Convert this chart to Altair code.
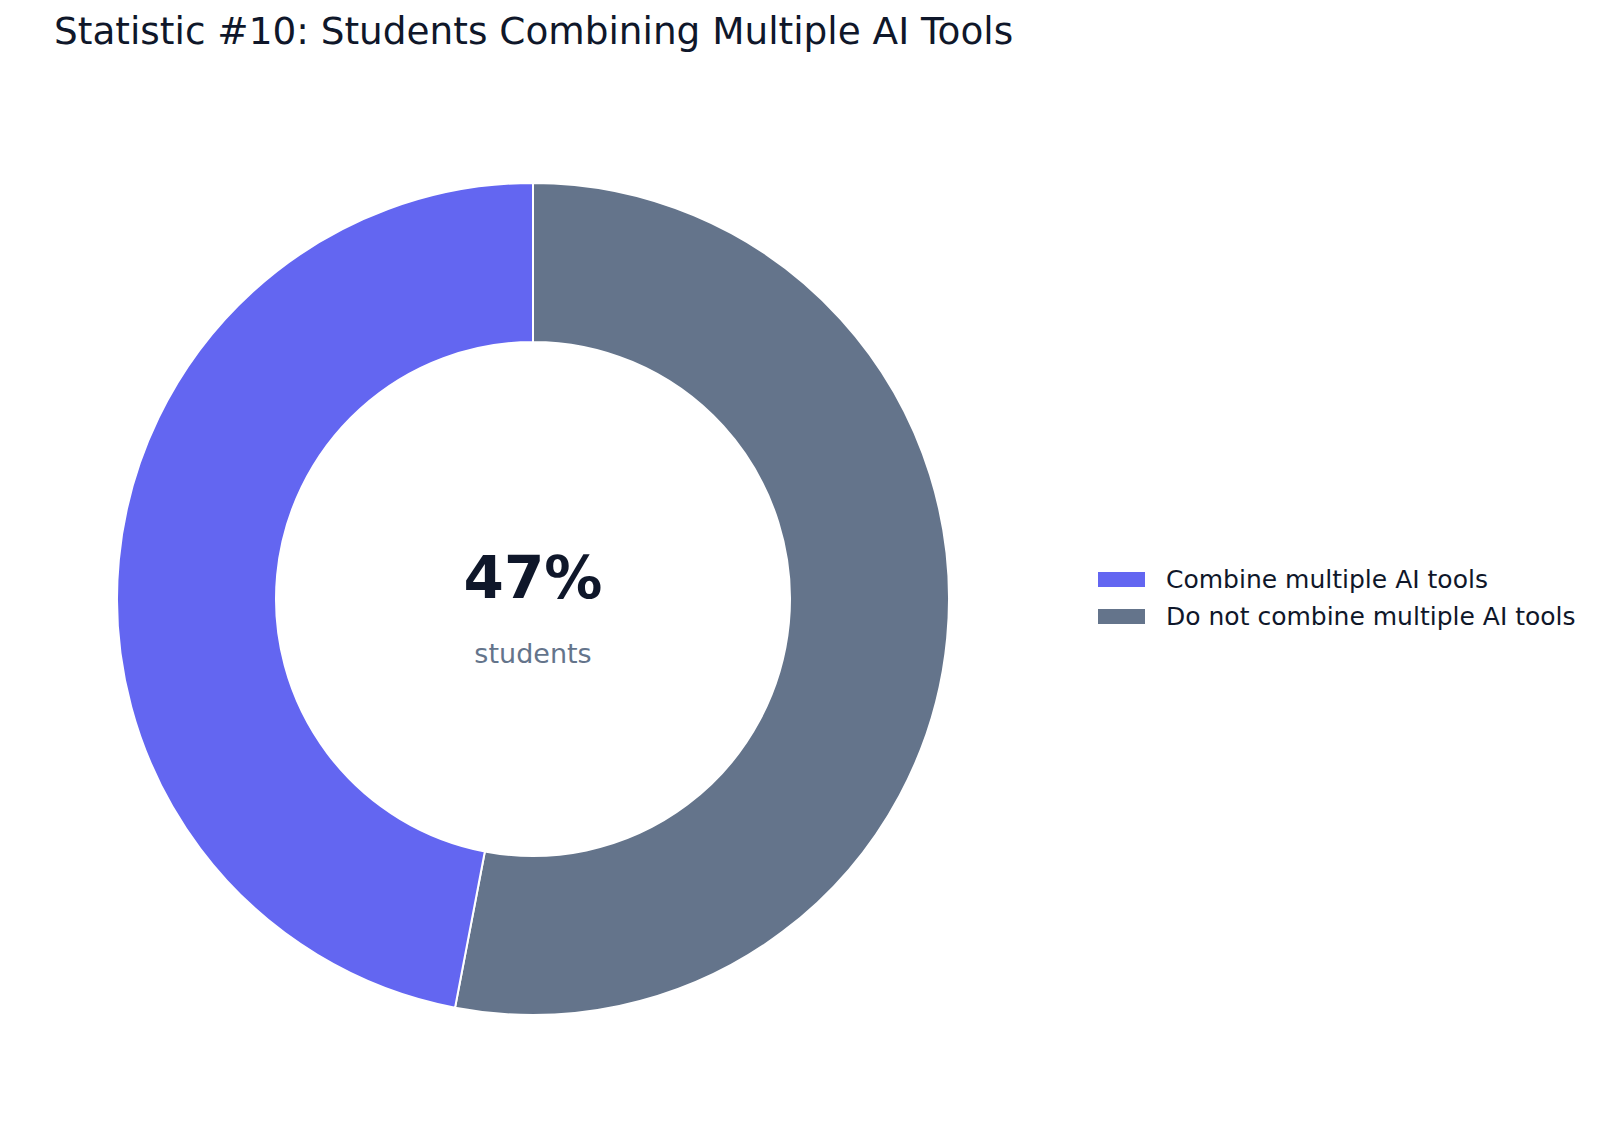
import altair as alt
import pandas as pd

categories = ["Do not combine multiple AI tools", "Combine multiple AI tools"]
values = [53, 47]
legend_order = ["Combine multiple AI tools", "Do not combine multiple AI tools"]
colors = ["#6366F1", "#64748B"]
order = [0, 1]
center_value = ["47%"]
center_label = ["students"]

df = pd.DataFrame({"category": categories, "value": values, "order": order})

CX, CY = 525, 521
FONT = "DejaVu Sans"

donut = alt.Chart(df).mark_arc(
    innerRadius=257, outerRadius=416, stroke="white", strokeWidth=2
).encode(
    theta=alt.Theta("value:Q", stack=True),
    order=alt.Order("order:Q"),
    color=alt.Color(
        "category:N",
        scale=alt.Scale(domain=legend_order, range=colors),
        legend=alt.Legend(
            title=None,
            orient="none",
            legendX=1090,
            legendY=478,
            symbolType="M-1,-0.32L1,-0.32L1,0.32L-1,0.32Z",
            symbolSize=2209,
            symbolStrokeWidth=0,
            symbolOpacity=1,
            labelFontSize=25,
            labelFont=FONT,
            labelColor="#0F172A",
            labelOffset=21,
            labelLimit=1000,
            rowPadding=0,
        ),
    ),
    x=alt.value(CX),
    y=alt.value(CY),
)

big = alt.Chart(pd.DataFrame({"t": center_value})).mark_text(
    font=FONT, fontSize=58, fontWeight="bold", color="#0F172A", baseline="alphabetic", align="center"
).encode(text="t:N", x=alt.value(CX), y=alt.value(CY - 1))

small = alt.Chart(pd.DataFrame({"t": center_label})).mark_text(
    font=FONT, fontSize=27, color="#64748B", baseline="alphabetic", align="center"
).encode(text="t:N", x=alt.value(CX), y=alt.value(CY + 64))

chart = alt.layer(donut, big, small).properties(
    width=1584,
    height=1000,
    autosize=alt.AutoSizeParams(type="none"),
    padding={"top": 70, "left": 0, "right": 0, "bottom": 0},
    title=alt.TitleParams(
        "Statistic #10: Students Combining Multiple AI Tools",
        anchor="start",
        frame="group",
        font=FONT,
        fontSize=37.4,
        fontWeight="normal",
        color="#0F172A",
        dx=46,
        offset=27,
    ),
).configure(font=FONT, view=alt.ViewConfig(stroke=None))

chart.save("out.html", embed_options={"renderer": "svg", "actions": False})
